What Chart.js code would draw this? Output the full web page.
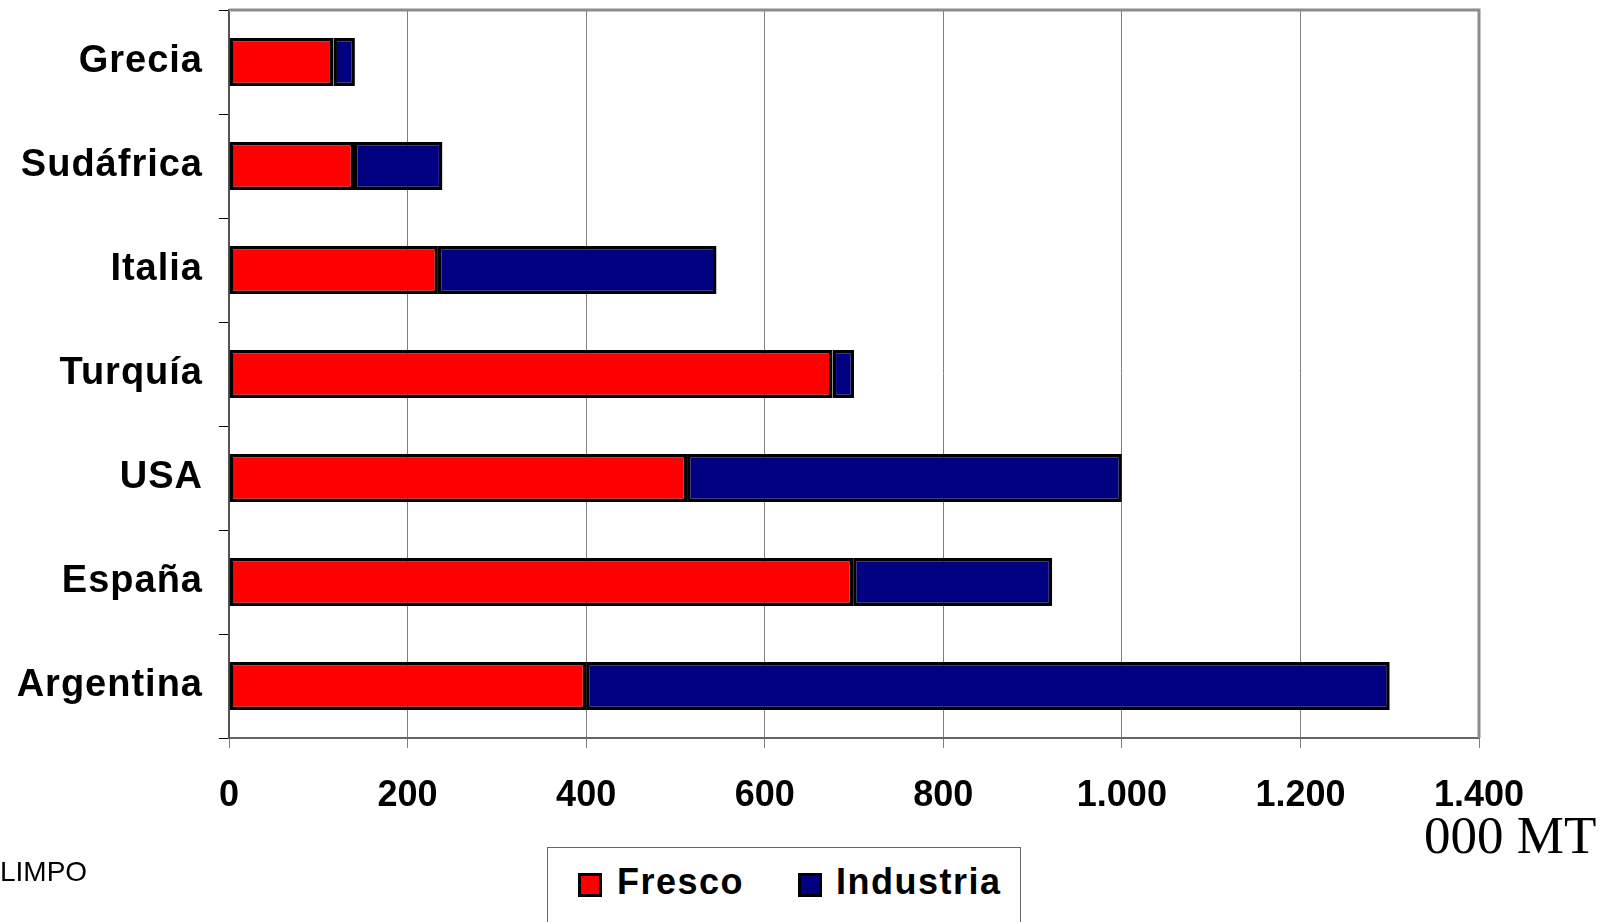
<!DOCTYPE html>
<html>
<head>
<meta charset="utf-8">
<script src="https://cdn.jsdelivr.net/npm/chart.js@4.4.1/dist/chart.umd.min.js"></script>
<style>
  html, body { margin: 0; padding: 0; background: #fff; overflow: hidden; }
  #wrap { position: relative; width: 1607px; height: 922px; }
  #chart { position: absolute; left: 0; top: 0; }
  #unit { position: absolute; left: 1424px; top: 805px; font-family: "Liberation Serif", "Times New Roman", serif; font-size: 53px; line-height: 60px; color: #000; white-space: nowrap; }
  #source { position: absolute; left: 0px; top: 856px; font-family: "Liberation Sans", Arial, sans-serif; font-size: 28px; line-height: 32px; color: #000; }
  #legend { position: absolute; left: 547px; top: 847px; width: 474px; height: 90px; border: 1px solid #666; box-sizing: border-box; background: #fff; }
  .item { position: absolute; top: 23px; font-family: "Liberation Sans", Arial, sans-serif; font-weight: bold; font-size: 36px; line-height: 40px; letter-spacing: 1.5px; color: #000; white-space: nowrap; }
  .sw { position: absolute; top: 2px; left: 0; width: 24px; height: 24px; box-sizing: border-box; border: 3px solid #000; }
</style>
</head>
<body>
<div id="wrap">
  <canvas id="chart" width="1607" height="922"></canvas>
  <div id="unit">000 MT</div>
  <div id="source">LIMPO</div>
  <div id="legend"></div>
</div>
<script>
const categories = ["Grecia", "Sudáfrica", "Italia", "Turquía", "USA", "España", "Argentina"];
const seriesNames = ["Fresco", "Industria"];
const seriesColors = ["#FF0000", "#000080"];
const fresco = [117, 140, 234, 676, 513, 699, 400];
const industria = [24, 99, 312, 24, 487, 223, 900];
const xTicks = [0, 200, 400, 600, 800, 1000, 1200, 1400];

function fmt(v) {
  return String(v).replace(/\B(?=(\d{3})+(?!\d))/g, ".");
}

const frame = {
  id: "frame",
  afterLayout(chart) {
    const y = chart.scales.y;
    if (y && !y._lsPatched) {
      const orig = y.drawLabels.bind(y);
      y.drawLabels = function (area) {
        const ctx = chart.ctx;
        ctx.save();
        ctx.letterSpacing = "1px";
        orig(area);
        ctx.restore();
      };
      y._lsPatched = true;
    }
  },
  afterDraw(chart) {
    const a = chart.chartArea, ctx = chart.ctx;
    ctx.save();
    ctx.strokeStyle = "#8c8c8c";
    ctx.lineWidth = 3;
    ctx.beginPath();
    ctx.moveTo(a.left, a.top);
    ctx.lineTo(a.right, a.top);
    ctx.lineTo(a.right, a.bottom);
    ctx.stroke();
    ctx.restore();
  }
};

const seriesData = [fresco, industria];
const chart = new Chart(document.getElementById("chart"), {
  type: "bar",
  data: {
    labels: categories,
    datasets: seriesNames.map((n, i) => ({
      label: n,
      data: seriesData[i],
      backgroundColor: seriesColors[i],
      borderColor: "#000",
      borderWidth: 3.5,
      borderSkipped: false,
      barPercentage: 1,
      categoryPercentage: 0.46
    }))
  },
  options: {
    indexAxis: "y",
    responsive: false,
    animation: false,
    devicePixelRatio: 1,
    layout: { padding: { top: 10, right: 128, left: 0, bottom: 0 } },
    plugins: { legend: { display: false }, tooltip: { enabled: false } },
    scales: {
      x: {
        stacked: true,
        min: 0,
        max: 1400,
        afterBuildTicks(s) { s.ticks = xTicks.map(v => ({ value: v })); },
        afterFit(s) { s.height = 184; },
        grid: { color: "#808080", lineWidth: 1, tickLength: 10, drawTicks: true },
        border: { color: "#666", width: 2 },
        ticks: {
          padding: 26,
          color: "#000",
          maxRotation: 0,
          font: { family: "'Liberation Sans', Arial, sans-serif", weight: "bold", size: 36 },
          callback: v => fmt(v)
        }
      },
      y: {
        stacked: true,
        afterFit(s) { s.width = 229; s.paddingTop = 0; s.paddingBottom = 0; },
        grid: { display: true, drawOnChartArea: false, offset: true, tickLength: 10, color: "#000", lineWidth: 1 },
        border: { color: "#555", width: 2 },
        ticks: {
          padding: 16,
          color: "#000",
          font: { family: "'Liberation Sans', Arial, sans-serif", weight: "bold", size: 38 }
        }
      }
    }
  },
  plugins: [frame]
});

// HTML legend built from the datasets
const lg = document.getElementById("legend");
const pos = [{ sw: 30, tx: 69 }, { sw: 250, tx: 288 }];
chart.data.datasets.forEach((ds, i) => {
  const sw = document.createElement("div");
  sw.className = "sw";
  sw.style.left = pos[i].sw + "px";
  sw.style.top = "25px";
  sw.style.background = ds.backgroundColor;
  lg.appendChild(sw);
  const it = document.createElement("div");
  it.className = "item";
  it.style.left = pos[i].tx + "px";
  it.style.top = "14px";
  it.textContent = ds.label;
  lg.appendChild(it);
});
</script>
</body>
</html>
